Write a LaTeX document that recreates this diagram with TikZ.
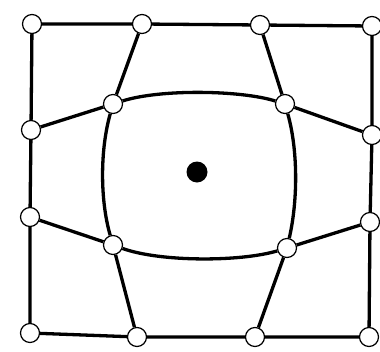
\documentclass[tikz,border=0pt]{standalone}
\begin{document}
\begin{tikzpicture}[x=1pt,y=-1pt,
  pt/.style={circle,draw=black,fill=white,line width=1.2pt,minimum size=19pt,inner sep=0pt},
  edge/.style={draw=black,line width=3.3pt},
  dotn/.style={circle,fill=black,minimum size=21pt,inner sep=0pt}]
\useasboundingbox (0,0) rectangle (380,351);
% outer frame nodes
\node[pt] (tl) at (32,24) {};
\node[pt] (t1) at (142,24) {};
\node[pt] (t2) at (260,25) {};
\node[pt] (tr) at (372,26) {};
\node[pt] (l1) at (31,130) {};
\node[pt] (l2) at (30,217) {};
\node[pt] (bl) at (30,333) {};
\node[pt] (b1) at (137,337) {};
\node[pt] (b2) at (255,337) {};
\node[pt] (br) at (369,337) {};
\node[pt] (r1) at (372,135) {};
\node[pt] (r2) at (370,222) {};
% inner nodes
\node[pt] (itl) at (113,104) {};
\node[pt] (itr) at (285,104) {};
\node[pt] (ibl) at (113,245) {};
\node[pt] (ibr) at (287,248) {};
\node[dotn] (c) at (197,172) {};
% edges
\path[edge] (tl) -- (t1) -- (t2) -- (tr);
\path[edge] (tr) -- (r1) -- (r2) -- (br);
\path[edge] (bl) -- (b1) -- (b2) -- (br);
\path[edge] (tl) -- (l1) -- (l2) -- (bl);
\path[edge] (t1) -- (itl);
\path[edge] (t2) -- (itr);
\path[edge] (l1) -- (itl);
\path[edge] (r1) -- (itr);
\path[edge] (l2) -- (ibl);
\path[edge] (r2) -- (ibr);
\path[edge] (b1) -- (ibl);
\path[edge] (b2) -- (ibr);
\path[edge] (itl) .. controls (160,89) and (240,90) .. (itr);
\path[edge] (ibl) .. controls (160,262) and (240,262) .. (ibr);
\path[edge] (itl) .. controls (100,150) and (100,200) .. (ibl);
\path[edge] (itr) .. controls (298,150) and (298,200) .. (ibr);
\end{tikzpicture}
\end{document}
